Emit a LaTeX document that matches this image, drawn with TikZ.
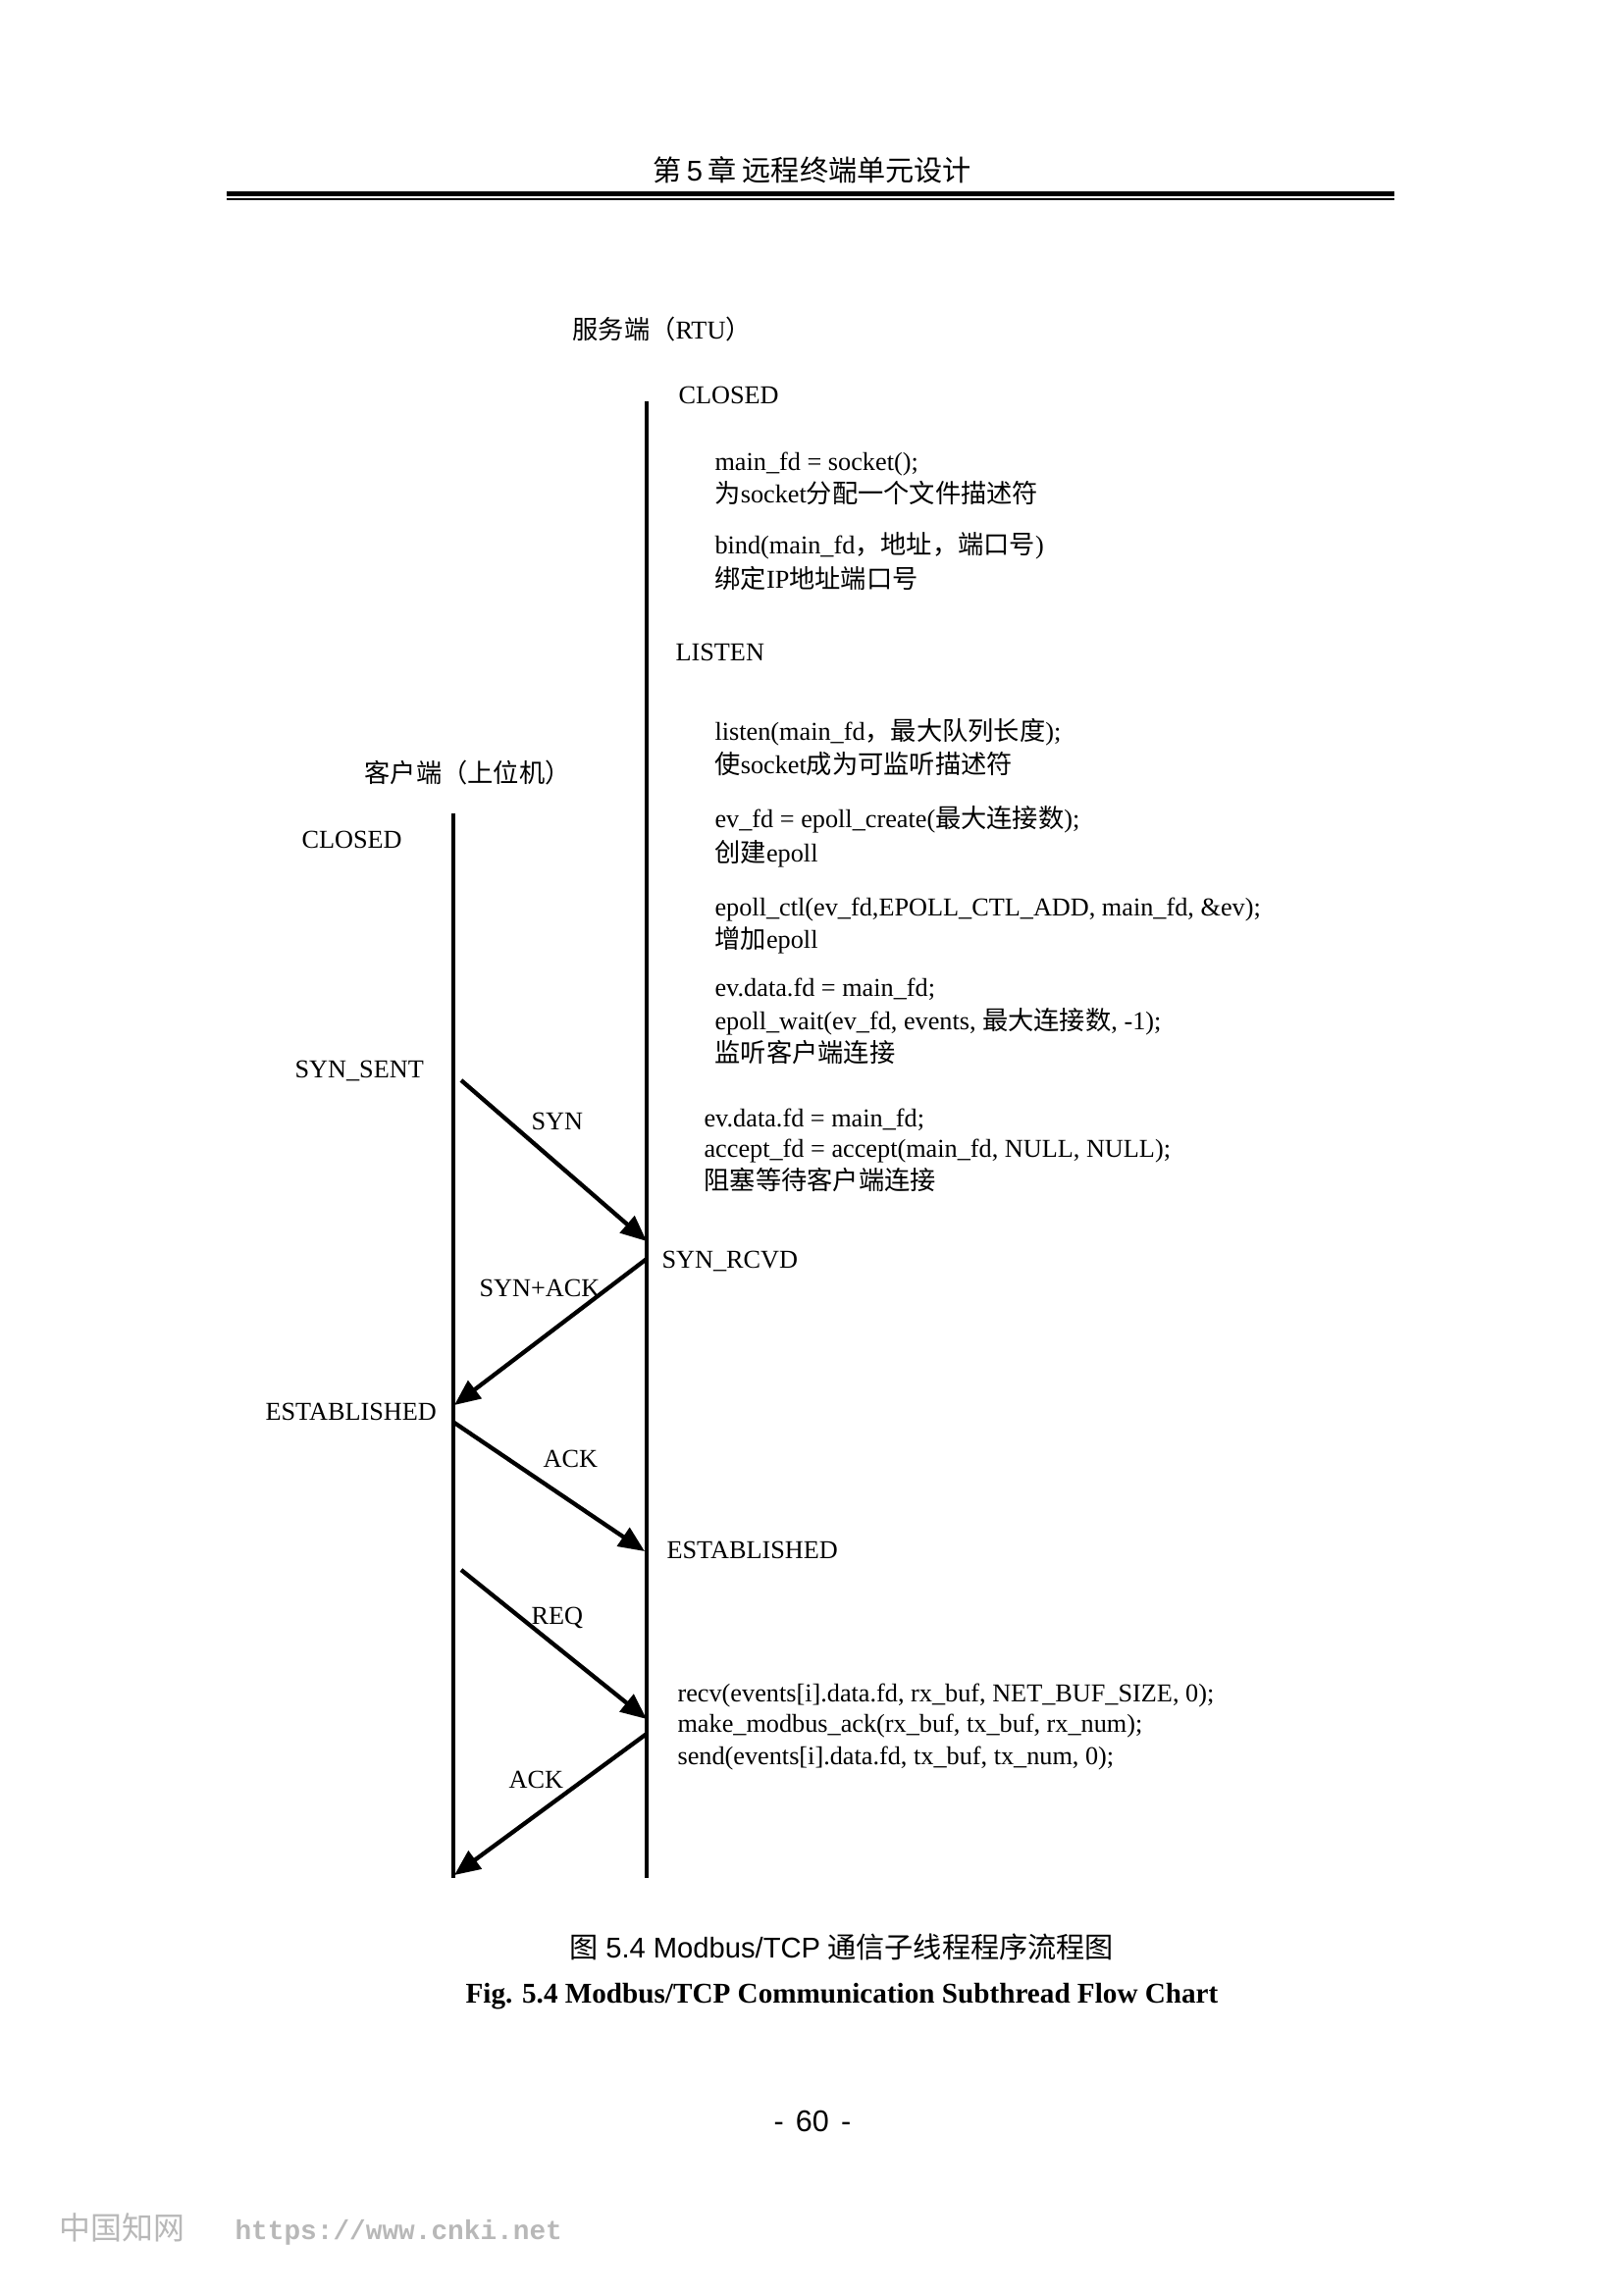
\documentclass[tikz,border=0pt]{standalone}
\usepackage{fontspec}
\setmainfont{Liberation Serif}
\newfontfamily\cjk{Noto Sans CJK SC}
\newfontfamily\arialf{Liberation Sans}
\newfontfamily\monof{Liberation Mono}
\usetikzlibrary{arrows.meta}
\newcommand\zh[1]{{\cjk #1}}
\begin{document}
\begin{tikzpicture}[x=0.36pt,y=-0.36pt,
  lbl/.style={inner sep=0pt, anchor=base west, font=\fontsize{9.45}{11}\selectfont},
  lifeline/.style={line width=1.6pt},
  msg/.style={line width=1.55pt, -{Triangle[length=9.5pt,width=8pt]}},
  ctr/.style={inner sep=0pt, anchor=base}]
\useasboundingbox (0,0) rectangle (1654,2339);
\fill[white] (0,0) rectangle (1654,2339);

% header
\node[ctr, font=\cjk\fontsize{10.5}{12}\selectfont] (hdr) at (828,184) {第\,{\arialf 5}\,章 远程终端单元设计};
\fill (231,195) rectangle (1421,199.5);
\fill (231,201.5) rectangle (1421,203.5);

% lifelines
\coordinate (srvTop) at (659,409);
\coordinate (srvBot) at (659,1914);
\coordinate (cliTop) at (462,829);
\coordinate (cliBot) at (462,1914);
\draw[lifeline] (srvTop) -- (srvBot);
\draw[lifeline] (cliTop) -- (cliBot);

% titles
\node[lbl] (srvT) at (583,345) {\zh{服务端（}RTU\zh{）}};
\node[lbl] (cliT) at (371,797) {\zh{客户端（上位机）}};

% server side states and code
\node[lbl] (sClosed) at (691,411) {CLOSED};
\node[lbl] (t1) at (728,479) {main\_fd = socket();};
\node[lbl] (t2) at (728,512) {\zh{为}socket\zh{分配一个文件描述符}};
\node[lbl] (t3) at (728,564) {bind(main\_fd\zh{，地址，端口号})};
\node[lbl] (t4) at (728,599) {\zh{绑定}IP\zh{地址端口号}};
\node[lbl] (sListen) at (688,673) {LISTEN};
\node[lbl] (t5) at (728,754) {listen(main\_fd\zh{，最大队列长度});};
\node[lbl] (t6) at (728,788) {\zh{使}socket\zh{成为可监听描述符}};
\node[lbl] (t7) at (728,843) {ev\_fd = epoll\_create(\zh{最大连接数});};
\node[lbl] (t8) at (728,878) {\zh{创建}epoll};
\node[lbl] (t9) at (728,933) {epoll\_ctl(ev\_fd,EPOLL\_CTL\_ADD, main\_fd, \&ev);};
\node[lbl] (t10) at (728,966) {\zh{增加}epoll};
\node[lbl] (t11) at (728,1015) {ev.data.fd = main\_fd;};
\node[lbl] (t12) at (728,1049) {epoll\_wait(ev\_fd, events, \zh{最大连接数}, -1);};
\node[lbl] (t13) at (728,1082) {\zh{监听客户端连接}};
\node[lbl] (t14) at (717,1148) {ev.data.fd = main\_fd;};
\node[lbl] (t15) at (717,1179) {accept\_fd = accept(main\_fd, NULL, NULL);};
\node[lbl] (t16) at (717,1212) {\zh{阻塞等待客户端连接}};
\node[lbl] (sRcvd) at (674,1292) {SYN\_RCVD};
\node[lbl] (sEst) at (679,1588) {ESTABLISHED};
\node[lbl] (t17) at (690,1734) {recv(events[i].data.fd, rx\_buf, NET\_BUF\_SIZE, 0);};
\node[lbl] (t18) at (690,1765) {make\_modbus\_ack(rx\_buf, tx\_buf, rx\_num);};
\node[lbl] (t19) at (690,1798) {send(events[i].data.fd, tx\_buf, tx\_num, 0);};

% client side states
\node[lbl] (cClosed) at (307,864) {CLOSED};
\node[lbl] (cSent) at (300,1098) {SYN\_SENT};
\node[lbl] (cEst) at (270,1447) {ESTABLISHED};

% messages
\coordinate (a1s) at (470,1101);
\coordinate (a1e) at (659,1265);
\coordinate (a2s) at (659,1283);
\coordinate (a2e) at (463,1432);
\coordinate (a3s) at (463,1450);
\coordinate (a3e) at (657,1581);
\coordinate (a4s) at (470,1600);
\coordinate (a4e) at (659,1752);
\coordinate (a5s) at (659,1767);
\coordinate (a5e) at (463,1911);
\draw[msg] (a1s) -- (a1e);
\draw[msg] (a2s) -- (a2e);
\draw[msg] (a3s) -- (a3e);
\draw[msg] (a4s) -- (a4e);
\draw[msg] (a5s) -- (a5e);
\node[lbl] (mSyn) at (541,1151) {SYN};
\node[lbl] (mSynAck) at (488,1321) {SYN+ACK};
\node[lbl] (mAck) at (553,1495) {ACK};
\node[lbl] (mReq) at (541,1655) {REQ};
\node[lbl] (mAck2) at (518,1822) {ACK};

% captions
\node[ctr, font=\fontsize{10.5}{12}\selectfont] (cap1) at (858,1995) {\zh{图} {\arialf 5.4 Modbus/TCP} \zh{通信子线程程序流程图}};
\node[ctr, font=\bfseries\fontsize{10.5}{12}\selectfont] (cap2) at (858,2041) {Fig. 5.4 Modbus/TCP Communication Subthread Flow Chart};
\node[ctr, font=\arialf\fontsize{11}{12}\selectfont] (pg) at (828,2172) {-\hspace{0.4em}60\hspace{0.4em}-};

% watermark
\node[inner sep=0pt, anchor=base west, text=black!28, font=\cjk\fontsize{11.5}{12}\selectfont] (wm1) at (60,2282) {中国知网};
\node[inner sep=0pt, anchor=base west, text=black!28, font=\monof\bfseries\fontsize{10}{12}\selectfont] (wm2) at (239,2282) {https://www.cnki.net};
\end{tikzpicture}
\end{document}
